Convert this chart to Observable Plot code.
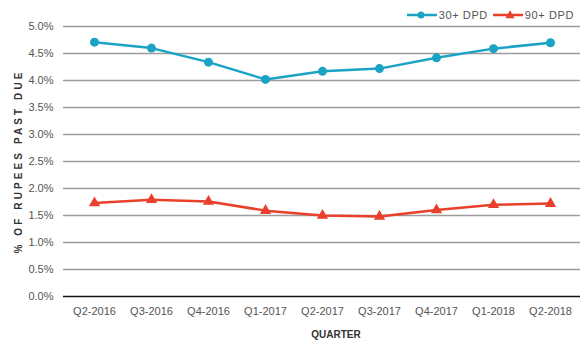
<!DOCTYPE html>
<html>
<head>
<meta charset="utf-8">
<script src="https://cdn.jsdelivr.net/npm/d3@7"></script>
<script src="https://cdn.jsdelivr.net/npm/@observablehq/plot@0.6"></script>
<style>
  html, body { margin: 0; padding: 0; background: #fff; }
  #wrap { position: relative; width: 584px; height: 347px; font-family: "Liberation Sans", Arial, sans-serif; }
  #legend { position: absolute; top: 9px; right: 10px; display: flex; gap: 5px; font-size: 11px; color: #555; letter-spacing: 0.6px; line-height: 12px; }
  #legend .item { display: flex; align-items: center; gap: 2px; }
</style>
</head>
<body>
<div id="wrap">
  <div id="chart"></div>
  <div id="legend"></div>
</div>
<script>
// Quarterly share of rupees past due, by delinquency bucket
const quarters = ["Q2-2016", "Q3-2016", "Q4-2016", "Q1-2017", "Q2-2017", "Q3-2017", "Q4-2017", "Q1-2018", "Q2-2018"];
const dpd30 = [4.71, 4.60, 4.34, 4.02, 4.17, 4.22, 4.42, 4.59, 4.70];
const dpd90 = [1.73, 1.79, 1.76, 1.59, 1.50, 1.48, 1.60, 1.70, 1.72];
const yTicks = [0, 0.5, 1, 1.5, 2, 2.5, 3, 3.5, 4, 4.5, 5];
const seriesNames = ["30+ DPD", "90+ DPD"];
const seriesColors = ["#1ba3c6", "#e8402a"];

const rows30 = quarters.map((q, i) => ({quarter: q, value: dpd30[i]}));
const rows90 = quarters.map((q, i) => ({quarter: q, value: dpd90[i]}));

const chart = Plot.plot({
  width: 584,
  height: 347,
  marginLeft: 63,
  marginRight: 4,
  marginTop: 26,
  marginBottom: 51,
  style: {fontFamily: "Liberation Sans, Arial, sans-serif", fontSize: "11px", color: "#555", background: "#fff"},
  x: {type: "point", domain: quarters, padding: 0.5, label: null},
  y: {domain: [0, 5], label: null},
  marks: [
    Plot.ruleY(yTicks.filter(d => d > 0), {stroke: "#9c9c9c", strokeWidth: 1.6}),
    Plot.ruleY([0], {stroke: "#111", strokeWidth: 1.6}),
    Plot.axisY({ticks: yTicks, tickSize: 0, tickPadding: 10, tickFormat: d => d.toFixed(1) + "%",
      label: "% OF RUPEES PAST DUE", labelAnchor: "center", labelOffset: 49, labelArrow: "none",
      fill: "#555"}),
    Plot.axisX({tickSize: 0, tickPadding: 11, fill: "#555", label: null, letterSpacing: "0.6px"}),
    Plot.text(["QUARTER"], {frameAnchor: "bottom", dx: 14, dy: 41, fontWeight: "bold", fill: "#333", fontSize: 10, letterSpacing: "1px"}),
    Plot.line(rows30, {x: "quarter", y: "value", stroke: seriesColors[0], strokeWidth: 2.5}),
    Plot.dot(rows30, {x: "quarter", y: "value", fill: seriesColors[0], r: 4.5, symbol: "circle"}),
    Plot.line(rows90, {x: "quarter", y: "value", stroke: seriesColors[1], strokeWidth: 2.5}),
    Plot.dot(rows90, {x: "quarter", y: "value", fill: seriesColors[1], r: 4.2, symbol: "triangle"})
  ]
});

// style the rotated y title
d3.select(chart).selectAll("[aria-label='y-axis label'] text")
  .attr("font-weight", "bold").attr("fill", "#333").attr("font-size", 10).attr("letter-spacing", "3.1px");

document.getElementById("chart").appendChild(chart);

// legend with line-and-marker swatches
const legend = d3.select("#legend");
seriesNames.forEach((name, i) => {
  const item = legend.append("div").attr("class", "item");
  const svg = item.append("svg").attr("width", 30).attr("height", 10);
  svg.append("line").attr("x1", 0).attr("x2", 30).attr("y1", 5).attr("y2", 5)
    .attr("stroke", seriesColors[i]).attr("stroke-width", 2.5);
  if (i === 0) svg.append("circle").attr("cx", 14).attr("cy", 5).attr("r", 3.5).attr("fill", seriesColors[i]);
  else svg.append("path").attr("d", d3.symbol(d3.symbolTriangle, 36)()).attr("transform", "translate(17,5.5)").attr("fill", seriesColors[i]);
  item.append("span").text(name);
});
</script>
</body>
</html>
